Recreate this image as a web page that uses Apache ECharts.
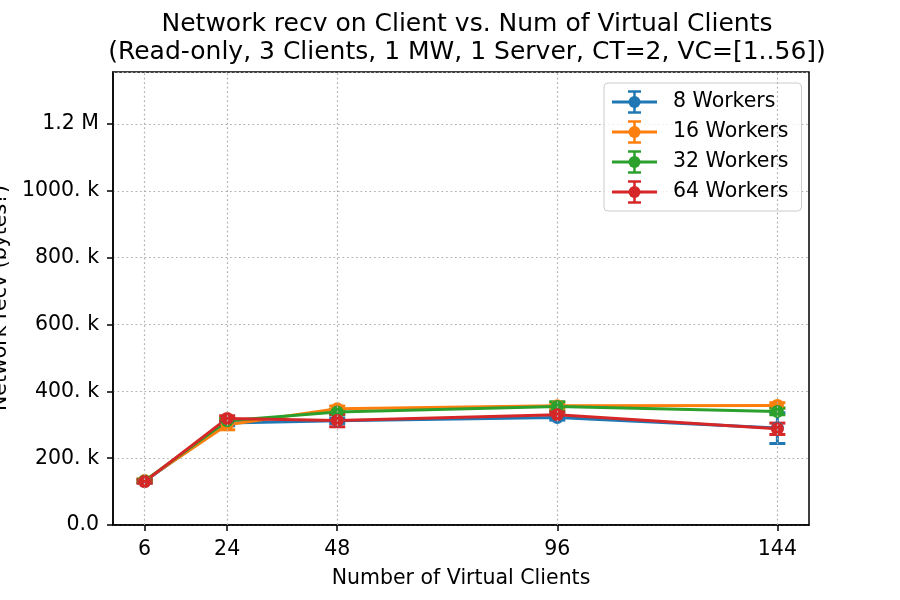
<!DOCTYPE html>
<html>
<head>
<meta charset="utf-8">
<title>Network recv on Client</title>
<script src="https://cdn.jsdelivr.net/npm/echarts@6/dist/echarts.min.js"></script>
<style>
  html, body { margin: 0; padding: 0; background: #fff; }
  #chart { width: 900px; height: 600px; }
</style>
</head>
<body>
<div id="chart"></div>
<script>
// values
const clients = [6, 24, 48, 96, 144]
const seriesNames = ['8 Workers', '16 Workers', '32 Workers', '64 Workers']
const colors = ['#1f77b4', '#ff7f0e', '#2ca02c', '#d62728']

const recv8 = [131000, 305000, 312000, 322000, 290000]
const recv16 = [133000, 300000, 348000, 357000, 358000]
const recv32 = [132000, 312000, 338000, 355000, 340000]
const recv64 = [130000, 319000, 313000, 330000, 288000]

const err8 = [5000, 8000, 8000, 8000, 46000]
const err16 = [5000, 15000, 8000, 8000, 8000]
const err32 = [5000, 8000, 8000, 14000, 10000]
const err64 = [5000, 8000, 19000, 8000, 17000]

const yTickValues = [0, 200000, 400000, 600000, 800000, 1000000, 1200000]
const yTickLabels = ['0.0', '200. k', '400. k', '600. k', '800. k', '1000. k', '1.2 M']

const allValues = [recv8, recv16, recv32, recv64]
const allErrors = [err8, err16, err32, err64]

const font = 'DejaVu Sans'
const gridStyle = { color: '#b0b0b0', width: 1.2, type: [1.7, 2.8] }

function legendIcon(color) {
  const svg =
    "<svg xmlns='http://www.w3.org/2000/svg' width='56' height='24'>" +
    `<line x1='0' y1='12' x2='45' y2='12' stroke='${color}' stroke-width='3'/>` +
    `<line x1='22.5' y1='1' x2='22.5' y2='23' stroke='${color}' stroke-width='2.5'/>` +
    `<line x1='16' y1='1.5' x2='29' y2='1.5' stroke='${color}' stroke-width='2.5'/>` +
    `<line x1='16' y1='22.5' x2='29' y2='22.5' stroke='${color}' stroke-width='2.5'/>` +
    `<circle cx='22.5' cy='12' r='6' fill='${color}'/>` +
    '</svg>'
  return 'image://data:image/svg+xml;charset=utf-8,' + encodeURIComponent(svg)
}

const series = [
  {
    // vertical grid lines at the x ticks
    type: 'line',
    data: [],
    silent: true,
    z: 1,
    markLine: {
      silent: true,
      symbol: 'none',
      label: { show: false },
      lineStyle: gridStyle,
      animation: false,
      data: clients.map((c) => ({ xAxis: c }))
    }
  }
]

seriesNames.forEach((name, i) => {
  const vals = allValues[i]
  const errs = allErrors[i]
  series.push({
    name,
    type: 'custom',
    z: 3,
    silent: true,
    data: clients.map((c, j) => [c, vals[j] - errs[j], vals[j] + errs[j]]),
    encode: { x: 0, y: [1, 2] },
    renderItem(params, api) {
      const lo = api.coord([api.value(0), api.value(1)])
      const hi = api.coord([api.value(0), api.value(2)])
      const half = 8
      const style = { stroke: colors[i], lineWidth: 3 }
      return {
        type: 'group',
        children: [
          { type: 'line', shape: { x1: lo[0], y1: lo[1], x2: hi[0], y2: hi[1] }, style },
          { type: 'line', shape: { x1: lo[0] - half, y1: lo[1], x2: lo[0] + half, y2: lo[1] }, style },
          { type: 'line', shape: { x1: hi[0] - half, y1: hi[1], x2: hi[0] + half, y2: hi[1] }, style }
        ]
      }
    }
  })
  series.push({
    name,
    type: 'line',
    z: 3,
    data: clients.map((c, j) => [c, vals[j]]),
    symbol: 'circle',
    symbolSize: 13,
    showSymbol: true,
    lineStyle: { color: colors[i], width: 3 },
    itemStyle: { color: colors[i] },
    emphasis: { disabled: true }
  })
})

const chart = echarts.init(document.getElementById('chart'))
chart.setOption({
  animation: false,
  color: colors,
  title: {
    text: 'Network recv on Client vs. Num of Virtual Clients\n(Read-only, 3 Clients, 1 MW, 1 Server, CT=2, VC=[1..56])',
    left: 462,
    top: 5,
    textAlign: 'center',
    textStyle: { fontFamily: font, fontSize: 25, fontWeight: 'normal', color: '#000', lineHeight: 28 }
  },
  legend: {
    orient: 'vertical',
    left: 604,
    top: 83,
    padding: [7, 13, 7, 8],
    itemGap: 6,
    itemWidth: 56,
    itemHeight: 24,
    backgroundColor: 'rgba(255,255,255,0.8)',
    borderColor: '#cccccc',
    borderWidth: 1,
    borderRadius: 4,
    textStyle: { fontFamily: font, fontSize: 20.5, color: '#000' },
    data: seriesNames.map((name, i) => ({ name, icon: legendIcon(colors[i]) })),
    selectedMode: false
  },
  grid: {
    left: 113,
    right: 91,
    top: 72,
    bottom: 75,
    show: true,
    borderColor: '#000',
    borderWidth: 1.5,
    backgroundColor: 'transparent'
  },
  xAxis: {
    type: 'value',
    min: -0.9,
    max: 150.9,
    name: 'Number of Virtual Clients',
    nameLocation: 'middle',
    nameGap: 43,
    nameTextStyle: { fontFamily: font, fontSize: 20.5, color: '#000' },
    axisLine: { onZero: false, lineStyle: { color: '#000', width: 1.5 } },
    axisTick: { customValues: clients, length: 6, lineStyle: { color: '#000', width: 1.5 } },
    axisLabel: { customValues: clients, margin: 14, fontFamily: font, fontSize: 20.5, color: '#000' },
    splitLine: { show: false }
  },
  yAxis: {
    type: 'value',
    min: 0,
    max: 1356000,
    interval: 200000,
    axisLine: { show: true, onZero: false, lineStyle: { color: '#000', width: 1.5 } },
    axisTick: { show: true, length: 6, lineStyle: { color: '#000', width: 1.5 } },
    axisLabel: {
      margin: 14,
      fontFamily: font,
      fontSize: 20.5,
      color: '#000',
      showMaxLabel: false,
      formatter: (v) => {
        const k = yTickValues.indexOf(v)
        return k >= 0 ? yTickLabels[k] : ''
      }
    },
    splitLine: { show: true, lineStyle: gridStyle }
  },
  graphic: [
    {
      type: 'text',
      x: 1,
      y: 298,
      rotation: Math.PI / 2,
      style: {
        text: 'Network recv (bytes?)',
        fontFamily: font,
        fontSize: 20.5,
        fill: '#000',
        textAlign: 'center',
        textVerticalAlign: 'middle'
      }
    }
  ],
  series
})
</script>
</body>
</html>
